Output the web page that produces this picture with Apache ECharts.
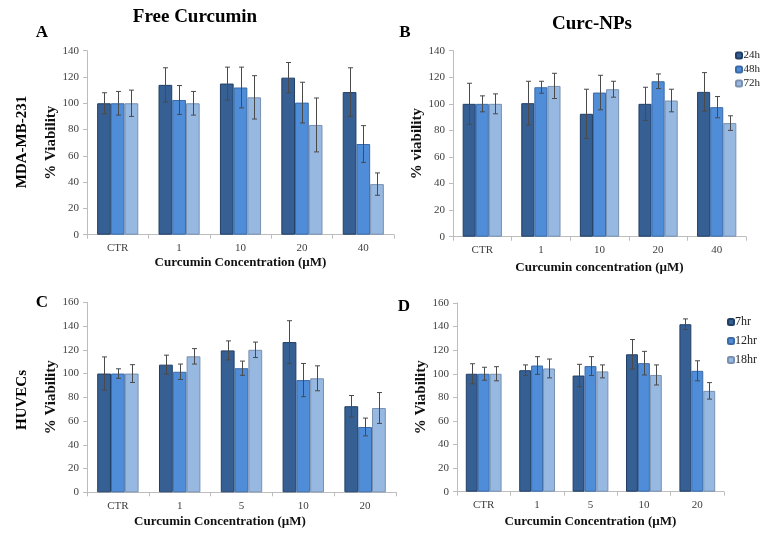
<!DOCTYPE html>
<html>
<head>
<meta charset="utf-8">
<script src="https://cdn.jsdelivr.net/npm/echarts@6/dist/echarts.min.js"></script>
<style>html,body{margin:0;padding:0;background:#fff;}#chart{width:761px;height:535px;}</style>
</head>
<body>
<div id="chart"></div>
<script>
// ---- Data ----
const catsAB = ['CTR', '1', '10', '20', '40'];
const catsCD = ['CTR', '1', '5', '10', '20'];
const namesAB = ['24h', '48h', '72h'];
const namesCD = ['7hr', '12hr', '18hr'];
const yTicksAB = [0, 20, 40, 60, 80, 100, 120, 140];
const yTicksCD = [0, 20, 40, 60, 80, 100, 120, 140, 160];

// Panel A: Free Curcumin, MDA-MB-231
const a24 = [100, 114, 115, 119.5, 108.5];
const a24Err = [8, 13, 12.5, 11.5, 18.5];
const a48 = [100, 102.5, 112, 100.5, 69];
const a48Err = [9, 11, 15.5, 15.5, 14];
const a72 = [100, 100, 104.5, 83.5, 38.5];
const a72Err = [10, 9, 16.5, 20.5, 8.5];

// Panel B: Curc-NPs, MDA-MB-231
const b24 = [100, 100.5, 92.5, 100, 109];
const b24Err = [15.5, 16.5, 18.5, 12.5, 14.5];
const b48 = [100, 112.5, 108.5, 117, 97.5];
const b48Err = [6, 4.5, 13, 5.5, 8];
const b72 = [100, 113.5, 111, 102.5, 85.5];
const b72Err = [7.5, 9.5, 6, 8.5, 5.5];

// Panel C: Free Curcumin, HUVECs
const c7 = [100, 107.5, 119.5, 126.5, 72.5];
const c7Err = [14, 8, 8, 18, 9];
const c12 = [100, 101.5, 104.5, 94.5, 55];
const c12Err = [4, 6.5, 6, 14, 7.5];
const c18 = [100, 114.5, 120, 96, 71];
const c18Err = [7.5, 6.5, 6.5, 10.5, 13];

// Panel D: Curc-NPs, HUVECs
const d7 = [100, 103, 98.5, 116.5, 142];
const d7Err = [8.5, 4.5, 9.5, 12.5, 4.5];
const d12 = [100, 107, 106.5, 109, 102.5];
const d12Err = [5.5, 7.5, 8, 10, 8.5];
const d18 = [100, 104.5, 102, 99, 85.5];
const d18Err = [6, 8, 5.5, 8.5, 7];

// ---- Styles ----
const FONT = '"Liberation Serif", "Times New Roman", serif';
const fills = ['#365F93', '#4F8DD9', '#97B8E1'];
const borders = ['#213F66', '#3B6AA6', '#7990B0'];
const GAP = 0.33;

const panels = [
  { cats: catsAB, names: namesAB, ticks: yTicksAB, vals: [a24, a48, a72], errs: [a24Err, a48Err, a72Err],
    grid: { left: 87, top: 50.7, width: 307, height: 184 }, xName: 'Curcumin Concentration (\u00B5M)', yName: '% Viability', xGap: 21, xPad: [0, 0, 0, 0] },
  { cats: catsAB, names: namesAB, ticks: yTicksAB, vals: [b24, b48, b72], errs: [b24Err, b48Err, b72Err],
    grid: { left: 453, top: 50.7, width: 293, height: 186 }, xName: 'Curcumin concentration (\u00B5M)', yName: '% viability', xGap: 24, xPad: [0, 0, 0, 0] },
  { cats: catsCD, names: namesCD, ticks: yTicksCD, vals: [c7, c12, c18], errs: [c7Err, c12Err, c18Err],
    grid: { left: 87, top: 302.3, width: 309, height: 190 }, xName: 'Curcumin Concentration (\u00B5M)', yName: '% Viability', xGap: 23, xPad: [0, 43, 0, 0] },
  { cats: catsCD, names: namesCD, ticks: yTicksCD, vals: [d7, d12, d18], errs: [d7Err, d12Err, d18Err],
    grid: { left: 457, top: 303, width: 267, height: 188.7 }, xName: 'Curcumin Concentration (\u00B5M)', yName: '% Viability', xGap: 23, xPad: [0, 0, 0, 0] }
];

const grid = [], xAxis = [], yAxis = [], series = [];
panels.forEach((p, pi) => {
  grid.push(Object.assign({ containLabel: false }, p.grid));
  xAxis.push({
    type: 'category', gridIndex: pi, data: p.cats,
    axisLine: { lineStyle: { color: '#BDBDBD', width: 1 } },
    axisTick: { show: true, length: 4, lineStyle: { color: '#BDBDBD' } },
    axisLabel: { fontFamily: FONT, fontSize: 11, color: '#404040', margin: 8 },
    name: p.xName, nameLocation: 'middle', nameGap: p.xGap,
    nameTextStyle: { fontFamily: FONT, fontSize: 13, fontWeight: 'bold', color: '#111', padding: p.xPad }
  });
  const tmax = p.ticks[p.ticks.length - 1];
  yAxis.push({
    type: 'value', gridIndex: pi, min: p.ticks[0], max: tmax, interval: p.ticks[1] - p.ticks[0],
    splitLine: { show: false },
    axisLine: { show: true, lineStyle: { color: '#BDBDBD', width: 1 } },
    axisTick: { show: true, length: 4, lineStyle: { color: '#BDBDBD' } },
    axisLabel: { fontFamily: FONT, fontSize: 11, color: '#404040', margin: 8 },
    name: p.yName, nameLocation: 'middle', nameGap: 26, nameRotate: 90,
    nameTextStyle: { fontFamily: FONT, fontSize: 15, fontWeight: 'bold', color: '#111' }
  });
  for (let i = 0; i < 3; i++) {
    series.push({
      type: 'bar', name: p.names[i], xAxisIndex: pi, yAxisIndex: pi,
      data: p.vals[i], barGap: '0%', barCategoryGap: (GAP * 100) + '%',
      itemStyle: { color: fills[i], borderColor: borders[i], borderWidth: 1 },
      emphasis: { disabled: true }
    });
  }
  for (let i = 0; i < 3; i++) {
    const vals = p.vals[i], errs = p.errs[i];
    series.push({
      type: 'custom', name: p.names[i] + ' error', xAxisIndex: pi, yAxisIndex: pi, z: 5,
      data: vals.map((v, k) => [k, v, errs[k]]),
      renderItem: function (params, api) {
        const idx = api.value(0), v = api.value(1), e = api.value(2);
        const c = api.coord([idx, v]);
        const band = api.size([1, 0])[0];
        const group = band * (1 - GAP);
        const bw = group / 3;
        const x = Math.round(c[0] - group / 2 + bw * (i + 0.5)) + 0.5;
        const yt = api.coord([idx, v + e])[1];
        const yb = api.coord([idx, v - e])[1];
        const cap = 2.5;
        const st = { stroke: '#4a4a4a', lineWidth: 1 };
        return {
          type: 'group', children: [
            { type: 'line', shape: { x1: x, y1: yt, x2: x, y2: yb }, style: st },
            { type: 'line', shape: { x1: x - cap, y1: yt, x2: x + cap, y2: yt }, style: st },
            { type: 'line', shape: { x1: x - cap, y1: yb, x2: x + cap, y2: yb }, style: st }
          ]
        };
      }
    });
  }
});

function txt(text, x, y, size, rot) {
  return {
    type: 'text', x: x, y: y, rotation: rot || 0,
    style: { text: text, fontFamily: FONT, fontSize: size, fontWeight: 'bold', fill: '#000', align: 'center', verticalAlign: 'middle' }
  };
}

const option = {
  animation: false,
  backgroundColor: '#fff',
  grid: grid, xAxis: xAxis, yAxis: yAxis, series: series,
  legend: [
    { data: namesAB, orient: 'vertical', left: 735, top: 50, padding: 0, itemWidth: 6, itemHeight: 6, itemGap: 3,
      selectedMode: false, textStyle: { fontFamily: FONT, fontSize: 11, color: '#222', padding: [0, 0, 0, -3.5] } },
    { data: namesCD, orient: 'vertical', left: 727, top: 316, padding: 0, itemWidth: 6, itemHeight: 6, itemGap: 7,
      selectedMode: false, textStyle: { fontFamily: FONT, fontSize: 12, color: '#222', padding: [0, 0, 0, -4] } }
  ],
  graphic: [
    txt('Free Curcumin', 195, 17, 19),
    txt('Curc-NPs', 592, 24, 19),
    txt('A', 42, 33, 17),
    txt('B', 405, 33, 17),
    txt('C', 42, 303, 17),
    txt('D', 404, 307, 17),
    txt('MDA-MB-231', 22, 142, 15, Math.PI / 2),
    txt('HUVECs', 22, 400, 15, Math.PI / 2)
  ]
};

const chart = echarts.init(document.getElementById('chart'), null, { renderer: 'canvas' });
chart.setOption(option);
</script>
</body>
</html>
